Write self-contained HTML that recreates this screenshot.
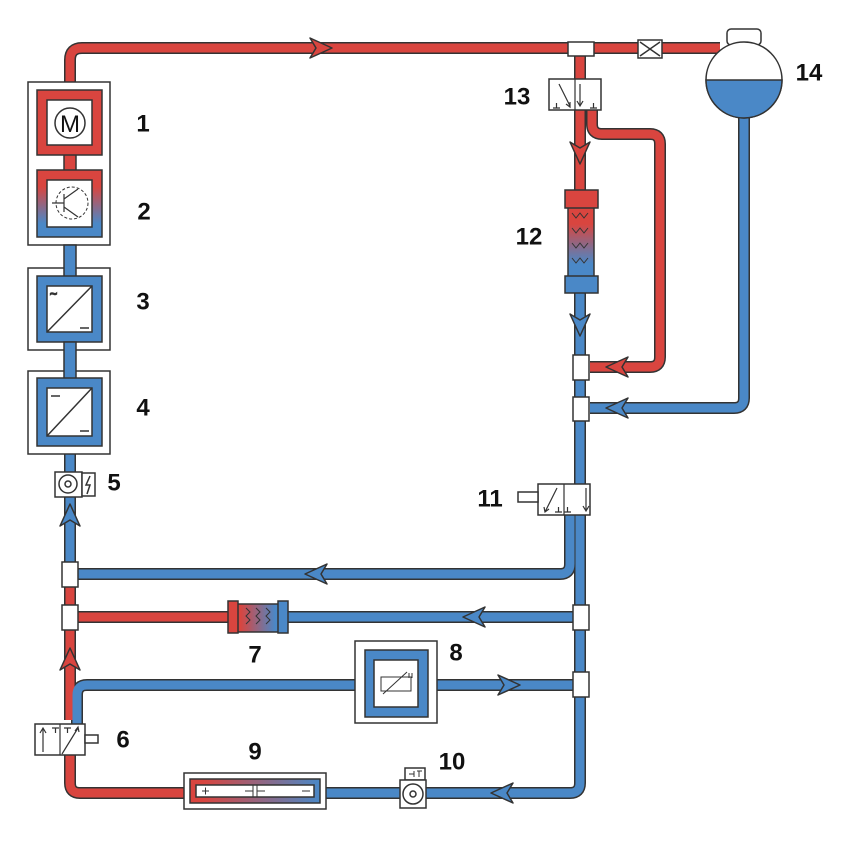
<!DOCTYPE html>
<html><head><meta charset="utf-8"><style>
html,body{margin:0;padding:0;background:#fff}
svg{display:block}
text{font-family:"Liberation Sans",sans-serif;font-weight:bold;font-size:24px;fill:#111}
</style></head><body>
<svg width="851" height="844" viewBox="0 0 851 844" xmlns="http://www.w3.org/2000/svg">
<defs>
<linearGradient id="gv" x1="0" y1="0" x2="0" y2="1"><stop offset="0.25" stop-color="#d9453f"/><stop offset="0.8" stop-color="#4a88c7"/></linearGradient>
<linearGradient id="gh" x1="0" y1="0" x2="1" y2="0"><stop offset="0.1" stop-color="#d9453f"/><stop offset="0.9" stop-color="#4a88c7"/></linearGradient>
<linearGradient id="gh2" x1="0" y1="0" x2="1" y2="0"><stop offset="0.1" stop-color="#d9453f"/><stop offset="1" stop-color="#4a88c7"/></linearGradient>
</defs>
<g fill="none" stroke-linecap="butt" stroke-linejoin="round">
<g stroke="#333" stroke-width="12">
<path d="M70 90 V60 Q70 48 82 48 H720"/>
<path d="M744 115 V398 Q744 408 734 408 H590"/>
<path d="M70 245 V497"/>
<path d="M70 497 V720"/>
<path d="M78 574 H560 Q570 574 570 564 V515"/>
<path d="M78 617 H580"/>
<path d="M77 724 V695 Q77 685 87 685 H580"/>
<path d="M70 755 V783 Q70 793 80 793 H570 Q580 793 580 783 V48"/>
<path d="M592 110 V124 Q592 134 602 134 H650 Q660 134 660 144 V357 Q660 367 650 367 H590"/>
</g>
<g stroke-width="9">
<path stroke="#d9453f" d="M70 90 V60 Q70 48 82 48 H720"/>
<path stroke="#4a88c7" d="M744 115 V398 Q744 408 734 408 H590"/>
<path stroke="#4a88c7" d="M70 245 V497"/>
<path stroke="#4a88c7" d="M70 497 V574"/>
<path stroke="#d9453f" d="M70 574 V720"/>
<path stroke="#4a88c7" d="M78 574 H560 Q570 574 570 564 V515"/>
<path stroke="#d9453f" d="M78 617 H230"/>
<path stroke="#4a88c7" d="M285 617 H580"/>
<path stroke="#4a88c7" d="M77 724 V695 Q77 685 87 685 H580"/>
<path stroke="#d9453f" d="M70 755 V783 Q70 793 80 793 H190"/>
<path stroke="#4a88c7" d="M320 793 H570 Q580 793 580 783 V293"/>
<path stroke="#d9453f" d="M580 48 V190"/>
<path stroke="#d9453f" d="M592 110 V124 Q592 134 602 134 H650 Q660 134 660 144 V357 Q660 367 650 367 H590"/>
</g>
</g>
<g stroke="#333" stroke-width="1.5" stroke-linejoin="round">
<polygon fill="#d9453f" points="332,48 310,38 316,48 310,58"/>
<polygon fill="#4a88c7" points="606,408 628,398 622,408 628,418"/>
<polygon fill="#d9453f" points="606,367 628,357 622,367 628,377"/>
<polygon fill="#d9453f" points="580,164 570,142 580,148 590,142"/>
<polygon fill="#4a88c7" points="580,336 570,314 580,320 590,314"/>
<polygon fill="#4a88c7" points="70,504 60,526 70,520 80,526"/>
<polygon fill="#d9453f" points="70,648 60,670 70,664 80,670"/>
<polygon fill="#4a88c7" points="305,574 327,564 321,574 327,584"/>
<polygon fill="#4a88c7" points="463,617 485,607 479,617 485,627"/>
<polygon fill="#4a88c7" points="520,685 498,675 504,685 498,695"/>
<polygon fill="#4a88c7" points="491,793 513,783 507,793 513,803"/>
</g>
<g stroke="#333" stroke-width="1.5">
<rect x="568" y="42" width="26" height="14" fill="#fff"/>
<rect x="573" y="355" width="16" height="25" fill="#fff"/>
<rect x="573" y="397" width="16" height="24" fill="#fff"/>
<rect x="573" y="605" width="16" height="25" fill="#fff"/>
<rect x="573" y="672" width="16" height="25" fill="#fff"/>
<rect x="62" y="562" width="16" height="25" fill="#fff"/>
<rect x="62" y="605" width="16" height="25" fill="#fff"/>
<rect x="638" y="40" width="24" height="18" fill="#fff"/>
<path d="M640 42 L650 49 L660 42 M640 56 L650 49 L660 56" fill="none"/>
<rect x="727" y="29" width="34" height="16" rx="4" fill="#fff"/>
<circle cx="744" cy="80" r="38" fill="#fff"/>
<path d="M706 80 H782 A38 38 0 0 1 706 80 Z" fill="#4a88c7"/>
<rect x="28" y="82" width="82" height="163" fill="#fff"/>
<rect x="28" y="268" width="82" height="82" fill="#fff"/>
<rect x="28" y="371" width="82" height="83" fill="#fff"/>
<rect x="355" y="641" width="82" height="82" fill="#fff"/>
<rect x="64" y="150" width="12" height="25" fill="#d9453f"/>
<rect x="37" y="90" width="65" height="65" fill="#d9453f"/>
<rect x="47" y="100" width="45" height="45" fill="#fff"/>
<circle cx="70" cy="123" r="15" fill="none"/>
<rect x="37" y="170" width="65" height="67" fill="url(#gv)"/>
<rect x="47" y="180" width="45" height="47" fill="#fff"/>
<circle cx="72" cy="203" r="16" fill="none" stroke-dasharray="3,2" stroke-width="1"/>
<path d="M52 203 H64 M64 194 V212 M64 199 L78 189 M64 207 L78 217" fill="none" stroke-width="1.2"/>
<rect x="64" y="245" width="12" height="35" fill="#4a88c7"/>
<rect x="37" y="276" width="65" height="66" fill="#4a88c7"/>
<rect x="47" y="286" width="45" height="46" fill="#fff"/>
<path d="M47 332 L92 286 M80 328 H89" fill="none"/>
<text x="50" y="298" style="font-size:12px;font-weight:normal">~</text>
<rect x="64" y="342" width="12" height="40" fill="#4a88c7"/>
<rect x="37" y="378" width="65" height="68" fill="#4a88c7"/>
<rect x="47" y="388" width="45" height="48" fill="#fff"/>
<path d="M47 436 L92 388 M51 396 H60 M80 431 H89" fill="none"/>
<rect x="55" y="472" width="27" height="25" fill="#fff"/>
<circle cx="68" cy="484" r="9" fill="none"/>
<circle cx="68" cy="484" r="3" fill="none"/>
<rect x="82" y="473" width="13" height="23" fill="#fff"/>
<path d="M90 476 L86 485 L90 485 L87 494" fill="none"/>
<rect x="236" y="604" width="44" height="28" fill="url(#gh)"/>
<rect x="228" y="601" width="10" height="32" fill="#d9453f"/>
<rect x="278" y="601" width="10" height="32" fill="#4a88c7"/>
<path d="M246 608 l4 4 l-4 4 l4 4 l-4 4 M256 608 l4 4 l-4 4 l4 4 l-4 4 M266 608 l4 4 l-4 4 l4 4 l-4 4" fill="none" stroke-width="1"/>
<rect x="365" y="650" width="63" height="67" fill="#4a88c7"/>
<rect x="374" y="660" width="44" height="47" fill="#fff"/>
<rect x="381" y="677" width="30" height="14" fill="none" stroke-width="1"/>
<path d="M383 694 L407 672 M409 673 V678 M412 673 V678" fill="none" stroke-width="1"/>
<rect x="184" y="773" width="142" height="36" fill="#fff"/>
<rect x="190" y="779" width="130" height="24" fill="url(#gh2)"/>
<rect x="196" y="785" width="118" height="12" fill="#fff"/>
<path d="M202 791 h7 M205.5 787.5 v7 M302 791 h8 M245 791 h8 M253 785 v12 M257 785 v12 M257 791 h8" fill="none" stroke-width="1"/>
<rect x="405" y="768" width="20" height="12" fill="#fff"/>
<path d="M409 774 h5 M414 771 v6 M417 771 h5 M419 771 v6" fill="none" stroke-width="1"/>
<rect x="400" y="780" width="26" height="28" fill="#fff"/>
<circle cx="413" cy="794" r="10" fill="none"/>
<circle cx="413" cy="794" r="3" fill="none"/>
<rect x="35" y="724" width="50" height="31" fill="#fff"/>
<path d="M60 724 V755 M43 752 V729 M40 733 L43 728 L46 733 M62 754 L78 728 M75 731 L78 727 L79 732 M52 728 h7 M55.5 728 v5 M64 728 h7 M67.5 728 v5" fill="none" stroke-width="1.2"/>
<rect x="85" y="735" width="13" height="8" fill="#fff"/>
<rect x="538" y="484" width="52" height="31" fill="#fff"/>
<path d="M564 484 V515 M545 512 L557 488 M544 507 L545 512 L549 509 M586 488 V511 M583 506 L586 511 L589 506 M564 512 h7 M567.5 507 v5 M555 512 h7 M558.5 507 v5" fill="none" stroke-width="1.2"/>
<rect x="518" y="492" width="20" height="10" fill="#fff"/>
<rect x="568" y="206" width="26" height="72" fill="url(#gv)"/>
<rect x="565" y="190" width="33" height="18" fill="#d9453f"/>
<rect x="565" y="276" width="33" height="17" fill="#4a88c7"/>
<path d="M572 213 l4 5 l4 -5 l4 5 l4 -5 M572 228 l4 5 l4 -5 l4 5 l4 -5 M572 243 l4 5 l4 -5 l4 5 l4 -5 M572 258 l4 5 l4 -5 l4 5 l4 -5" fill="none" stroke-width="1"/>
<rect x="549" y="79" width="52" height="31" fill="#fff"/>
<path d="M575 79 V110 M559 84 L570 106 M566 104 L570 107 L570 102 M580 84 V106 M577 101 L580 106 L583 101 M553 108 h7 M556.5 103 v5 M590 108 h7 M593.5 103 v5" fill="none" stroke-width="1.2"/>
</g>
<text x="70" y="132" text-anchor="middle" style="font-weight:normal;font-size:24px">M</text>
<g text-anchor="middle" dominant-baseline="central">
<text x="143" y="124">1</text>
<text x="144" y="212">2</text>
<text x="143" y="302">3</text>
<text x="143" y="408">4</text>
<text x="114" y="483">5</text>
<text x="123" y="740">6</text>
<text x="255" y="655">7</text>
<text x="456" y="653">8</text>
<text x="255" y="752">9</text>
<text x="452" y="762">10</text>
<text x="490" y="499">11</text>
<text x="529" y="237">12</text>
<text x="517" y="97">13</text>
<text x="809" y="73">14</text>
</g>
</svg>
</body></html>
